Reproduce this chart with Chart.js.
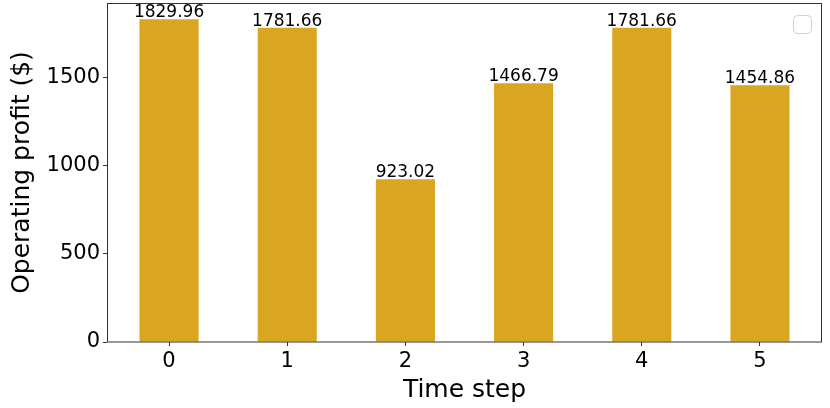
<!DOCTYPE html>
<html><head><meta charset="utf-8">
<script src="https://cdn.jsdelivr.net/npm/chart.js@4/dist/chart.umd.min.js"></script>
<style>html,body{margin:0;padding:0;background:#fff}#wrap{width:830px;height:408px}</style>
</head><body><div id="wrap"><canvas id="c" width="830" height="408"></canvas></div>
<script>
const categories = [0, 1, 2, 3, 4, 5];
const profits = [1829.96, 1781.66, 923.02, 1466.79, 1781.66, 1454.86];
const yTicks = [0, 500, 1000, 1500];
const xTicks = [0, 1, 2, 3, 4, 5];
const xLabel = 'Time step';
const yLabel = 'Operating profit ($)';
const yMax = Math.max(...profits) * 1.05;

const FONT = '"DejaVu Sans", sans-serif';
const AXIS = '#333';

const extras = {
  id: 'extras',
  afterDatasetsDraw(chart) {
    const ctx = chart.ctx;
    const meta = chart.getDatasetMeta(0);
    ctx.save();
    ctx.fillStyle = '#000';
    ctx.font = '17px ' + FONT;
    ctx.textAlign = 'center';
    ctx.textBaseline = 'alphabetic';
    meta.data.forEach((el, i) => {
      ctx.fillText(profits[i].toFixed(2), el.x, el.y - 2);
    });
    ctx.restore();
  },
  afterDraw(chart) {
    const ctx = chart.ctx;
    const a = chart.chartArea;
    ctx.save();
    ctx.strokeStyle = AXIS;
    ctx.lineWidth = 1;
    ctx.strokeRect(Math.round(a.left) + 0.5, Math.round(a.top) + 0.5,
      Math.round(a.right - a.left) - 1, Math.round(a.bottom - a.top) - 0.5);
    // empty legend frame
    ctx.strokeStyle = '#d0d0d0';
    ctx.fillStyle = 'rgba(255,255,255,0.8)';
    ctx.beginPath();
    ctx.roundRect(793.5, 15.5, 18, 18, 4);
    ctx.fill();
    ctx.stroke();
    // axis titles
    ctx.fillStyle = '#000';
    ctx.font = '25px ' + FONT;
    ctx.textAlign = 'center';
    ctx.textBaseline = 'alphabetic';
    ctx.fillText(xLabel, (a.left + a.right) / 2, 397);
    ctx.translate(29, (a.top + a.bottom) / 2);
    ctx.rotate(-Math.PI / 2);
    ctx.fillText(yLabel, 0, 0);
    ctx.restore();
  }
};

new Chart(document.getElementById('c'), {
  type: 'bar',
  data: {
    datasets: [{
      data: categories.map((c, i) => ({ x: c, y: profits[i] })),
      backgroundColor: '#DAA520',
      borderWidth: 0,
      barPercentage: 0.5,
      categoryPercentage: 1.0
    }]
  },
  options: {
    responsive: false,
    devicePixelRatio: 1,
    animation: false,
    layout: { padding: { top: 3, right: 8, left: 0, bottom: 0 } },
    plugins: { legend: { display: false }, tooltip: { enabled: false } },
    scales: {
      x: {
        type: 'linear',
        offset: false,
        min: -0.525,
        max: 5.525,
        afterBuildTicks: s => { s.ticks = xTicks.map(v => ({ value: v })); },
        afterFit: s => { s.height = 66; s.paddingLeft = 0; s.paddingRight = 0; },
        grid: { display: true, offset: false, drawOnChartArea: false, drawTicks: true, tickLength: 4, color: AXIS },
        border: { display: false },
        ticks: { color: '#000', font: { family: FONT, size: 21 }, padding: 3, maxRotation: 0, autoSkip: false,
                 callback: v => String(v) }
      },
      y: {
        min: 0,
        max: yMax,
        afterBuildTicks: s => { s.ticks = yTicks.map(v => ({ value: v })); },
        afterFit: s => { s.width = 107; s.paddingTop = 0; s.paddingBottom = 0; },
        grid: { display: true, drawOnChartArea: false, drawTicks: true, tickLength: 4, color: AXIS },
        border: { display: false },
        ticks: { color: '#000', font: { family: FONT, size: 21 }, padding: 3, callback: v => String(v) }
      }
    }
  },
  plugins: [extras]
});
</script>
</body></html>
